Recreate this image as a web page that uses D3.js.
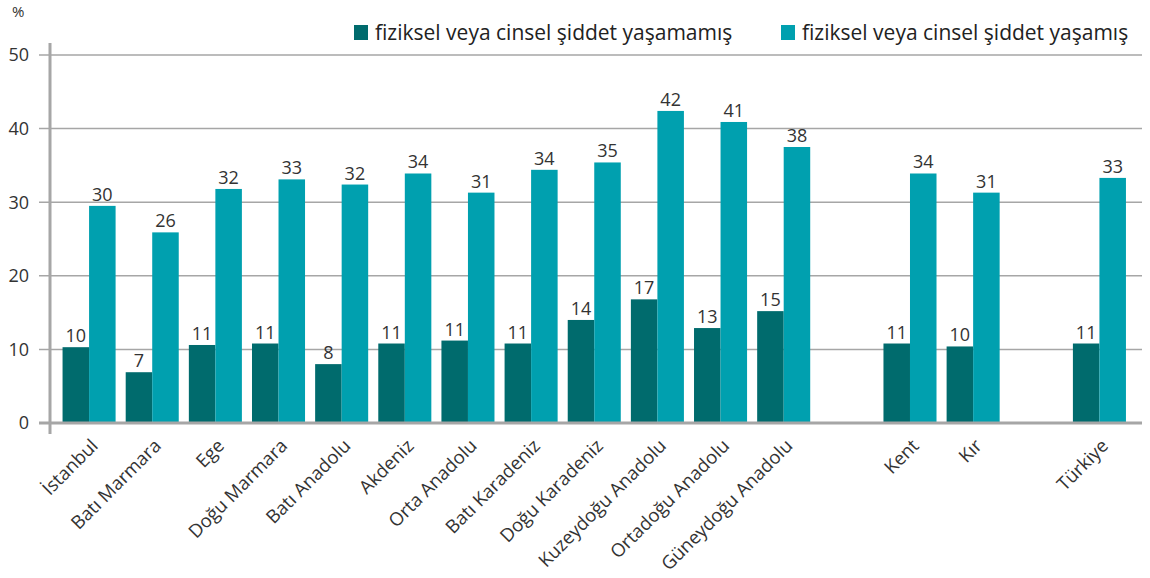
<!DOCTYPE html>
<html>
<head>
<meta charset="utf-8">
<script src="https://cdn.jsdelivr.net/npm/d3@7"></script>
<style>
  body { margin: 0; background: #fff; }
  svg { font-family: "Open Sans", "DejaVu Sans", sans-serif; }
</style>
</head>
<body>
<div id="chart"></div>
<script>
// veriler
const kategoriler = ["İstanbul", "Batı Marmara", "Ege", "Doğu Marmara", "Batı Anadolu", "Akdeniz",
  "Orta Anadolu", "Batı Karadeniz", "Doğu Karadeniz", "Kuzeydoğu Anadolu", "Ortadoğu Anadolu",
  "Güneydoğu Anadolu", "", "Kent", "Kır", " ", "Türkiye"];
const yasamamis = [10.3, 6.9, 10.6, 10.8, 8.0, 10.8, 11.2, 10.8, 14.0, 16.8, 12.9, 15.2, null, 10.8, 10.4, null, 10.8];
const yasamis = [29.5, 25.9, 31.8, 33.1, 32.4, 33.9, 31.3, 34.4, 35.4, 42.4, 40.9, 37.5, null, 33.9, 31.3, null, 33.3];
const seriler = ["fiziksel veya cinsel şiddet yaşamamış", "fiziksel veya cinsel şiddet yaşamış"];
const yTicks = [0, 10, 20, 30, 40, 50];

const width = 1150, height = 578;
const renkler = ["#006b6d", "#00a0af"];

const svg = d3.select("#chart").append("svg")
  .attr("width", width)
  .attr("height", height);

const y = d3.scaleLinear().domain([0, 50]).range([423, 55]);

const x0 = d3.scaleBand()
  .domain(kategoriler)
  .range([57.5, 1131])
  .paddingInner(0.16)
  .paddingOuter(0.08);

const x1 = d3.scaleBand()
  .domain([0, 1])
  .range([0, x0.bandwidth()]);

// yatay ızgara çizgileri
svg.append("g")
  .selectAll("line")
  .data(yTicks.filter(d => d > 0))
  .enter().append("line")
  .attr("x1", 39)
  .attr("x2", 1142)
  .attr("y1", d => y(d))
  .attr("y2", d => y(d))
  .attr("stroke", "#a6a6a6")
  .attr("stroke-width", 1.5);

// y ekseni etiketleri
svg.append("g")
  .selectAll("text")
  .data(yTicks)
  .enter().append("text")
  .attr("x", 29)
  .attr("y", d => y(d))
  .attr("dy", "0.35em")
  .attr("text-anchor", "end")
  .attr("font-size", 18)
  .attr("fill", "#333")
  .text(d => d);

svg.append("text")
  .attr("x", 12)
  .attr("y", 17)
  .attr("font-size", 15)
  .attr("fill", "#333")
  .text("%");

// çubuklar
const veri = kategoriler.map((k, i) => ({ k: k, v: [yasamamis[i], yasamis[i]] }));

const grup = svg.append("g")
  .selectAll("g")
  .data(veri.filter(d => d.v[0] != null))
  .enter().append("g")
  .attr("transform", d => `translate(${x0(d.k)},0)`);

grup.selectAll("rect")
  .data(d => d.v)
  .enter().append("rect")
  .attr("x", (d, i) => x1(i))
  .attr("y", d => y(d))
  .attr("width", x1.bandwidth())
  .attr("height", d => y(0) - y(d))
  .attr("fill", (d, i) => renkler[i]);

grup.selectAll("text")
  .data(d => d.v)
  .enter().append("text")
  .attr("x", (d, i) => x1(i) + x1.bandwidth() / 2)
  .attr("y", d => y(d) - 5)
  .attr("text-anchor", "middle")
  .attr("font-size", 18)
  .attr("fill", "#333")
  .text(d => Math.round(d));

// taban çizgisi ve y ekseni
svg.append("line")
  .attr("x1", 39).attr("x2", 1142)
  .attr("y1", y(0)).attr("y2", y(0))
  .attr("stroke", "#a6a6a6")
  .attr("stroke-width", 3);

svg.append("line")
  .attr("x1", 50).attr("x2", 50)
  .attr("y1", 43).attr("y2", 434)
  .attr("stroke", "#a6a6a6")
  .attr("stroke-width", 3);

// x ekseni etiketleri
svg.append("g")
  .selectAll("text")
  .data(kategoriler.filter(k => k.trim() !== ""))
  .enter().append("text")
  .attr("transform", k => `translate(${x0(k) + x0.bandwidth() / 2 + 10},447) rotate(-45)`)
  .attr("text-anchor", "end")
  .attr("font-size", 18.5)
  .attr("fill", "#333")
  .text(k => k);

// lejant
const lejantX = [354, 781];
const lejant = svg.append("g")
  .selectAll("g")
  .data(seriler)
  .enter().append("g")
  .attr("transform", (d, i) => `translate(${lejantX[i]},25)`);

lejant.append("rect")
  .attr("width", 14)
  .attr("height", 15)
  .attr("fill", (d, i) => renkler[i]);

lejant.append("text")
  .attr("x", 21)
  .attr("y", 8)
  .attr("dy", "0.35em")
  .attr("font-size", 21)
  .attr("fill", "#222")
  .text(d => d);
</script>
</body>
</html>
